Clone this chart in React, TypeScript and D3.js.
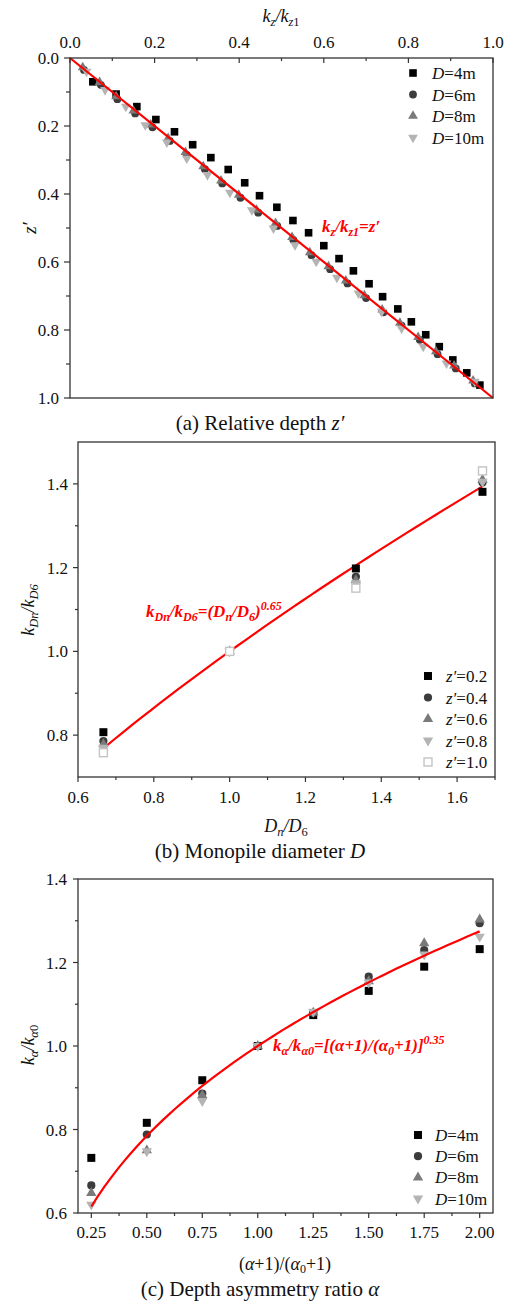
import React from 'react';
import * as d3 from 'd3';

const FONT = "Liberation Serif, Times New Roman, Times, serif";

// ---------- Panel (a) data: [kz/kz1, z'] ----------
const aXTicks = [0, 0.2, 0.4, 0.6, 0.8, 1.0];
const aXMinor = [0.1, 0.3, 0.5, 0.7, 0.9];
const aYTicks = [0, 0.2, 0.4, 0.6, 0.8, 1.0];
const aYMinor = [0.1, 0.3, 0.5, 0.7, 0.9];
const aD4: [number, number][] = [
  [0.054, 0.070], [0.109, 0.106], [0.158, 0.143], [0.203, 0.181], [0.247, 0.217],
  [0.290, 0.255], [0.333, 0.293], [0.374, 0.328], [0.413, 0.367], [0.448, 0.405],
  [0.489, 0.439], [0.527, 0.478], [0.564, 0.514], [0.600, 0.552], [0.636, 0.590],
  [0.670, 0.626], [0.707, 0.664], [0.739, 0.702], [0.775, 0.738], [0.807, 0.776],
  [0.841, 0.814], [0.873, 0.849], [0.905, 0.888], [0.938, 0.926], [0.969, 0.962],
];
const aD6: [number, number][] = [
  [0.033, 0.035], [0.073, 0.079], [0.112, 0.121], [0.154, 0.163], [0.195, 0.204],
  [0.236, 0.244], [0.276, 0.285], [0.319, 0.327], [0.360, 0.369], [0.403, 0.411],
  [0.445, 0.455], [0.490, 0.494], [0.528, 0.535], [0.571, 0.580], [0.615, 0.621],
  [0.656, 0.663], [0.700, 0.706], [0.741, 0.748], [0.784, 0.787], [0.827, 0.829],
  [0.869, 0.871], [0.912, 0.913], [0.957, 0.957],
];
const aD8: [number, number][] = [
  [0.030, 0.028], [0.070, 0.071], [0.109, 0.113], [0.150, 0.155], [0.191, 0.196],
  [0.232, 0.236], [0.273, 0.277], [0.315, 0.319], [0.357, 0.361], [0.399, 0.403],
  [0.441, 0.447], [0.486, 0.486], [0.525, 0.527], [0.567, 0.572], [0.611, 0.613],
  [0.652, 0.655], [0.696, 0.698], [0.738, 0.740], [0.780, 0.779], [0.823, 0.821],
  [0.865, 0.863], [0.908, 0.905], [0.953, 0.949],
];
const aD10: [number, number][] = [
  [0.039, 0.040], [0.083, 0.094], [0.132, 0.143], [0.178, 0.197], [0.229, 0.248],
  [0.276, 0.295], [0.325, 0.344], [0.378, 0.396], [0.430, 0.447], [0.481, 0.501],
  [0.532, 0.550], [0.582, 0.599], [0.631, 0.646], [0.682, 0.692], [0.737, 0.746],
  [0.784, 0.795], [0.835, 0.849], [0.890, 0.898], [0.957, 0.952],
];
const aFit: [number, number][] = [[0, 0], [1, 1]];

// ---------- Panel (b) data ----------
const bXTicks = [0.6, 0.8, 1.0, 1.2, 1.4, 1.6];
const bXMinor = [0.7, 0.9, 1.1, 1.3, 1.5, 1.7];
const bYTicks = [0.8, 1.0, 1.2, 1.4];
const bYMinor = [0.9, 1.1, 1.3];
const bX = [0.667, 1.0, 1.333, 1.667];
const bZ02 = [0.807, 1.0, 1.198, 1.381];
const bZ04 = [0.786, 1.0, 1.178, 1.403];
const bZ06 = [0.778, 1.0, 1.170, 1.410];
const bZ08 = [0.770, 1.0, 1.163, 1.405];
const bZ10 = [0.758, 1.0, 1.151, 1.431];
const bExponent = 0.65;
const bFitRange = [0.667, 1.667];

// ---------- Panel (c) data ----------
const cXTicks = [0.25, 0.5, 0.75, 1.0, 1.25, 1.5, 1.75, 2.0];
const cXMinor = [0.375, 0.625, 0.875, 1.125, 1.375, 1.625, 1.875];
const cYTicks = [0.6, 0.8, 1.0, 1.2, 1.4];
const cYMinor = [0.7, 0.9, 1.1, 1.3];
const cX = [0.25, 0.5, 0.75, 1.0, 1.25, 1.5, 1.75, 2.0];
const cD4 = [0.732, 0.816, 0.918, 1.000, 1.074, 1.132, 1.190, 1.232];
const cD6 = [0.666, 0.788, 0.886, 1.000, 1.079, 1.166, 1.230, 1.294];
const cD8 = [0.648, 0.750, 0.882, 1.000, 1.080, 1.155, 1.246, 1.303];
const cD10 = [0.620, 0.748, 0.868, 1.000, 1.082, 1.152, 1.219, 1.262];
const cExponent = 0.35;
const cFitRange = [0.25, 2.0];

// ---------- styles ----------
const C_BLACK = '#000000';
const C_DARK = '#3c3c3c';
const C_MID = '#7a7a7a';
const C_LIGHT = '#b4b4b4';
const C_OPEN = '#c4c4c4';
const RED = '#ff0000';
const AXIS = '#333333';

type Shape = 'square' | 'circle' | 'tri' | 'itri' | 'open';

function Marker({ shape, x, y, s = 1 }: { shape: Shape; x: number; y: number; s?: number }) {
  if (shape === 'square') {
    const h = 3.8 * s;
    return <rect x={x - h} y={y - h} width={2 * h} height={2 * h} fill={C_BLACK} />;
  }
  if (shape === 'open') {
    const h = 3.8 * s;
    return <rect x={x - h} y={y - h} width={2 * h} height={2 * h} fill="#fff" stroke={C_OPEN} strokeWidth={1.4} />;
  }
  if (shape === 'circle') {
    return <circle cx={x} cy={y} r={3.9 * s} fill={C_DARK} />;
  }
  const p = d3.symbol().type(d3.symbolTriangle).size(42 * s * s)()!;
  if (shape === 'tri') return <path d={p} transform={`translate(${x},${y})`} fill={C_MID} />;
  return <path d={p} transform={`translate(${x},${y}) rotate(180)`} fill={C_LIGHT} />;
}

function DLabel({ x, y, v }: { x: number; y: number; v: string }) {
  return (
    <text x={x} y={y} fontSize={17} fontFamily={FONT} fill="#111">
      <tspan fontStyle="italic">D</tspan>={v}m
    </text>
  );
}
function ZLabel({ x, y, v }: { x: number; y: number; v: string }) {
  return (
    <text x={x} y={y} fontSize={17} fontFamily={FONT} fill="#111">
      <tspan fontStyle="italic">z′</tspan>={v}
    </text>
  );
}

function PanelA() {
  const x = d3.scaleLinear().domain([0, 1]).range([70, 493]);
  const y = d3.scaleLinear().domain([0, 1]).range([58, 398]);
  const line = d3.line<[number, number]>().x((d) => x(d[0])).y((d) => y(d[1]));
  const fmt = d3.format('.1f');
  const series: { data: [number, number][]; shape: Shape; label: string }[] = [
    { data: aD4, shape: 'square', label: '4' },
    { data: aD6, shape: 'circle', label: '6' },
    { data: aD8, shape: 'tri', label: '8' },
    { data: aD10, shape: 'itri', label: '10' },
  ];
  return (
    <g>
      {aXTicks.map((t) => (
        <g key={'ax' + t}>
          <line x1={x(t)} x2={x(t)} y1={58} y2={63} stroke={AXIS} strokeWidth={1.2} />
          <text x={x(t)} y={48} textAnchor="middle" fontSize={17} fontFamily={FONT} fill="#111">{fmt(t)}</text>
        </g>
      ))}
      {aXMinor.map((t) => (
        <line key={'axm' + t} x1={x(t)} x2={x(t)} y1={58} y2={61} stroke={AXIS} strokeWidth={1.2} />
      ))}
      {aYTicks.map((t) => (
        <g key={'ay' + t}>
          <line x1={64} x2={70} y1={y(t)} y2={y(t)} stroke={AXIS} strokeWidth={1.2} />
          <text x={59} y={y(t) + 6} textAnchor="end" fontSize={17} fontFamily={FONT} fill="#111">{fmt(t)}</text>
        </g>
      ))}
      {aYMinor.map((t) => (
        <line key={'aym' + t} x1={66} x2={70} y1={y(t)} y2={y(t)} stroke={AXIS} strokeWidth={1.2} />
      ))}
      {series.map((s) => s.data.map((d, i) => <Marker key={s.label + i} shape={s.shape} x={x(d[0])} y={y(d[1])} />))}
      <path d={line(aFit)!} stroke={RED} strokeWidth={2.2} fill="none" />
      <rect x={70} y={58} width={423} height={340} fill="none" stroke={AXIS} strokeWidth={1.3} />
      {series.map((s, i) => (
        <g key={'la' + i}>
          <Marker shape={s.shape} x={413} y={73 + i * 21.5} />
          <DLabel x={432} y={79 + i * 21.5} v={s.label} />
        </g>
      ))}
      <text x={322} y={232} fontSize={17} fontFamily={FONT} fill={RED} fontWeight="bold" fontStyle="italic">
        k<tspan fontSize={12} dy={4}>z</tspan><tspan dy={-4}>/k</tspan><tspan fontSize={12} dy={4}>z1</tspan><tspan dy={-4}>=z′</tspan>
      </text>
      <text x={281} y={22} textAnchor="middle" fontSize={18} fontFamily={FONT} fill="#111" fontStyle="italic">
        k<tspan fontSize={12.5} dy={4}>z</tspan><tspan dy={-4}>/k</tspan><tspan fontSize={12.5} dy={4}>z</tspan><tspan fontSize={12.5} fontStyle="normal">1</tspan>
      </text>
      <text transform="translate(36,228) rotate(-90)" textAnchor="middle" fontSize={19} fontFamily={FONT} fill="#111" fontStyle="italic">z′</text>
      <text x={260} y={430} textAnchor="middle" fontSize={21} fontFamily={FONT} fill="#111">
        (a) Relative depth <tspan fontStyle="italic">z′</tspan>
      </text>
    </g>
  );
}

function PanelB() {
  const x = d3.scaleLinear().domain([0.6, 1.7]).range([78, 495]);
  const y = d3.scaleLinear().domain([0.7, 1.5]).range([777, 442]);
  const fmt = d3.format('.1f');
  const fitPts: [number, number][] = d3.range(0, 41).map((i) => {
    const xv = bFitRange[0] + ((bFitRange[1] - bFitRange[0]) * i) / 40;
    return [xv, Math.pow(xv, bExponent)];
  });
  const line = d3.line<[number, number]>().x((d) => x(d[0])).y((d) => y(d[1]));
  const series: { data: number[]; shape: Shape; label: string }[] = [
    { data: bZ02, shape: 'square', label: '0.2' },
    { data: bZ04, shape: 'circle', label: '0.4' },
    { data: bZ06, shape: 'tri', label: '0.6' },
    { data: bZ08, shape: 'itri', label: '0.8' },
    { data: bZ10, shape: 'open', label: '1.0' },
  ];
  return (
    <g>
      {bXTicks.map((t) => (
        <g key={'bx' + t}>
          <line x1={x(t)} x2={x(t)} y1={777} y2={782} stroke={AXIS} strokeWidth={1.2} />
          <text x={x(t)} y={803} textAnchor="middle" fontSize={17} fontFamily={FONT} fill="#111">{fmt(t)}</text>
        </g>
      ))}
      {bXMinor.map((t) => (
        <line key={'bxm' + t} x1={x(t)} x2={x(t)} y1={777} y2={780} stroke={AXIS} strokeWidth={1.2} />
      ))}
      {bYTicks.map((t) => (
        <g key={'by' + t}>
          <line x1={73} x2={78} y1={y(t)} y2={y(t)} stroke={AXIS} strokeWidth={1.2} />
          <text x={68} y={y(t) + 6} textAnchor="end" fontSize={17} fontFamily={FONT} fill="#111">{fmt(t)}</text>
        </g>
      ))}
      {bYMinor.map((t) => (
        <line key={'bym' + t} x1={75} x2={78} y1={y(t)} y2={y(t)} stroke={AXIS} strokeWidth={1.2} />
      ))}
      <path d={line(fitPts)!} stroke={RED} strokeWidth={2.2} fill="none" />
      {series.map((s, k) =>
        s.data.map((v, i) => <Marker key={k + '-' + i} shape={s.shape} x={x(bX[i])} y={y(v)} s={1.05} />)
      )}
      <rect x={78} y={442} width={417} height={335} fill="none" stroke={AXIS} strokeWidth={1.3} />
      {series.map((s, i) => (
        <g key={'lb' + i}>
          <Marker shape={s.shape} x={428} y={676 + i * 21.5} s={1.05} />
          <ZLabel x={446} y={682 + i * 21.5} v={s.label} />
        </g>
      ))}
      <text x={146} y={617} fontSize={17} fontFamily={FONT} fill={RED} fontWeight="bold" fontStyle="italic">
        k<tspan fontSize={12} dy={4}>Dn</tspan><tspan dy={-4}>/k</tspan><tspan fontSize={12} dy={4}>D6</tspan><tspan dy={-4}>=(D</tspan><tspan fontSize={12} dy={4}>n</tspan><tspan dy={-4}>/D</tspan><tspan fontSize={12} dy={4}>6</tspan><tspan dy={-4}>)</tspan><tspan fontSize={12} dy={-7}>0.65</tspan>
      </text>
      <text x={286} y={832} textAnchor="middle" fontSize={18} fontFamily={FONT} fill="#111" fontStyle="italic">
        D<tspan fontSize={12.5} dy={4}>n</tspan><tspan dy={-4}>/D</tspan><tspan fontSize={12.5} dy={4} fontStyle="normal">6</tspan>
      </text>
      <text transform="translate(34,610) rotate(-90)" textAnchor="middle" fontSize={18} fontFamily={FONT} fill="#111" fontStyle="italic">
        k<tspan fontSize={12.5} dy={4}>Dn</tspan><tspan dy={-4}>/k</tspan><tspan fontSize={12.5} dy={4}>D6</tspan>
      </text>
      <text x={260} y={858} textAnchor="middle" fontSize={21} fontFamily={FONT} fill="#111">
        (b) Monopile diameter <tspan fontStyle="italic">D</tspan>
      </text>
    </g>
  );
}

function PanelC() {
  const x = d3.scaleLinear().domain([0.19, 2.06]).range([78, 493]);
  const y = d3.scaleLinear().domain([0.6, 1.4]).range([1213, 879]);
  const fmtX = d3.format('.2f');
  const fmtY = d3.format('.1f');
  const fitPts: [number, number][] = d3.range(0, 61).map((i) => {
    const xv = cFitRange[0] + ((cFitRange[1] - cFitRange[0]) * i) / 60;
    return [xv, Math.pow(xv, cExponent)];
  });
  const line = d3.line<[number, number]>().x((d) => x(d[0])).y((d) => y(d[1]));
  const series: { data: number[]; shape: Shape; label: string }[] = [
    { data: cD4, shape: 'square', label: '4' },
    { data: cD6, shape: 'circle', label: '6' },
    { data: cD8, shape: 'tri', label: '8' },
    { data: cD10, shape: 'itri', label: '10' },
  ];
  return (
    <g>
      {cXTicks.map((t) => (
        <g key={'cx' + t}>
          <line x1={x(t)} x2={x(t)} y1={1213} y2={1218} stroke={AXIS} strokeWidth={1.2} />
          <text x={x(t)} y={1238} textAnchor="middle" fontSize={17} fontFamily={FONT} fill="#111">{fmtX(t)}</text>
        </g>
      ))}
      {cXMinor.map((t) => (
        <line key={'cxm' + t} x1={x(t)} x2={x(t)} y1={1213} y2={1216} stroke={AXIS} strokeWidth={1.2} />
      ))}
      {cYTicks.map((t) => (
        <g key={'cy' + t}>
          <line x1={73} x2={78} y1={y(t)} y2={y(t)} stroke={AXIS} strokeWidth={1.2} />
          <text x={67} y={y(t) + 6} textAnchor="end" fontSize={17} fontFamily={FONT} fill="#111">{fmtY(t)}</text>
        </g>
      ))}
      {cYMinor.map((t) => (
        <line key={'cym' + t} x1={75} x2={78} y1={y(t)} y2={y(t)} stroke={AXIS} strokeWidth={1.2} />
      ))}
      {series.map((s, k) =>
        s.data.map((v, i) => <Marker key={k + '-' + i} shape={s.shape} x={x(cX[i])} y={y(v)} s={1.05} />)
      )}
      <path d={line(fitPts)!} stroke={RED} strokeWidth={2.2} fill="none" />
      <rect x={78} y={879} width={415} height={334} fill="none" stroke={AXIS} strokeWidth={1.3} />
      {series.map((s, i) => (
        <g key={'lc' + i}>
          <Marker shape={s.shape} x={418} y={1135 + i * 21.2} s={1.05} />
          <DLabel x={435} y={1141 + i * 21.2} v={s.label} />
        </g>
      ))}
      <text x={273} y={1051} fontSize={17} fontFamily={FONT} fill={RED} fontWeight="bold" fontStyle="italic">
        k<tspan fontSize={12} dy={4}>α</tspan><tspan dy={-4}>/k</tspan><tspan fontSize={12} dy={4}>α0</tspan><tspan dy={-4}>=[(α+1)/(α</tspan><tspan fontSize={12} dy={4}>0</tspan><tspan dy={-4}>+1)]</tspan><tspan fontSize={12} dy={-7}>0.35</tspan>
      </text>
      <text x={285} y={1270} textAnchor="middle" fontSize={18} fontFamily={FONT} fill="#111">
        (<tspan fontStyle="italic">α</tspan>+1)/(<tspan fontStyle="italic">α</tspan><tspan fontSize={12} dy={3}>0</tspan><tspan dy={-3}>+1)</tspan>
      </text>
      <text transform="translate(34,1045) rotate(-90)" textAnchor="middle" fontSize={18} fontFamily={FONT} fill="#111" fontStyle="italic">
        k<tspan fontSize={12.5} dy={4}>α</tspan><tspan dy={-4}>/k</tspan><tspan fontSize={12.5} dy={4}>α</tspan><tspan fontSize={12.5} fontStyle="normal">0</tspan>
      </text>
      <text x={260} y={1296} textAnchor="middle" fontSize={21} fontFamily={FONT} fill="#111">
        (c) Depth asymmetry ratio <tspan fontStyle="italic">α</tspan>
      </text>
    </g>
  );
}

export default function App() {
  return (
    <svg
      width={516}
      height={1301}
      viewBox="0 0 516 1301"
      fontFamily={FONT}
      style={{ position: 'absolute', left: 0, top: 0, display: 'block', background: '#fff' }}
    >
      <rect x={0} y={0} width={516} height={1301} fill="#fff" />
      <PanelA />
      <PanelB />
      <PanelC />
    </svg>
  );
}
